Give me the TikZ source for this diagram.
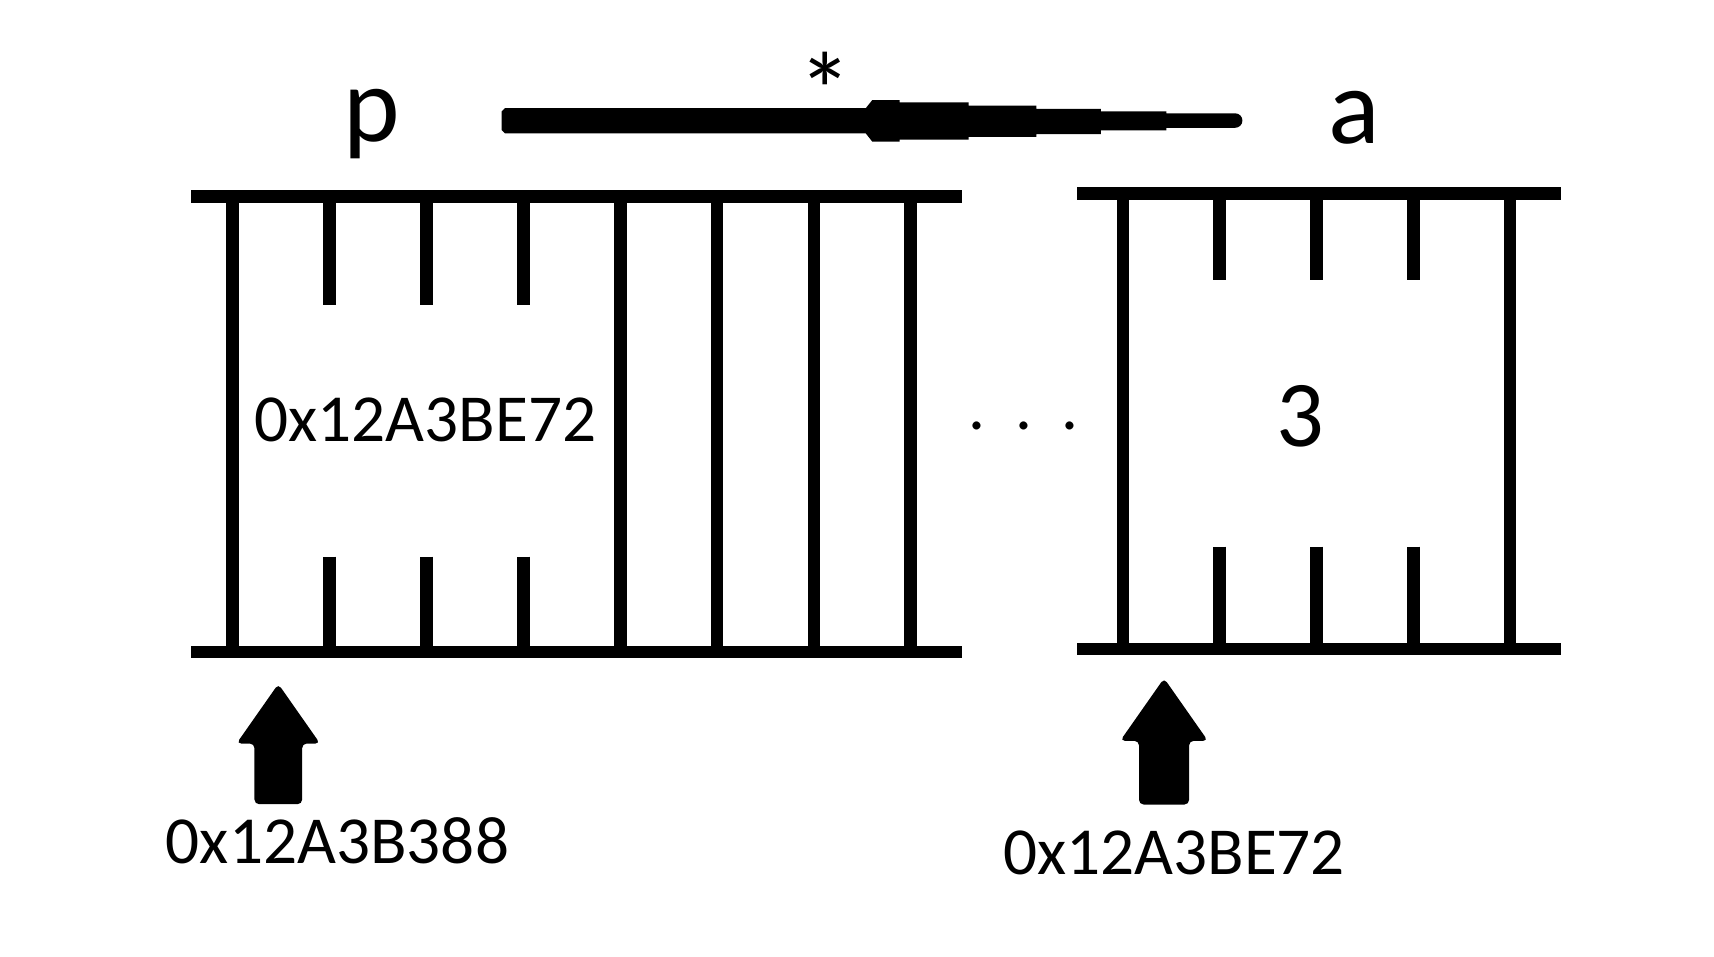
\documentclass[tikz,border=0pt]{standalone}
\usepackage{fontspec}
\setmainfont{Carlito}
\usetikzlibrary{positioning, calc}
\tikzset{
	rail/.style    ={line width=1.16mm},
	celltxt/.style ={font=\fontsize{17.5}{20}\selectfont, inner sep=0pt},
	varname/.style ={font=\fontsize{28}{32}\selectfont, inner sep=0pt, anchor=base},
	% block arrow pointing up, placed at its tip
	uparrow/.pic   ={\fill[rounded corners=1.2pt] (-21.8,110) -- (-21.8,54.5) -- (-38.2,54.5) -- (0,0)
	                  -- (38.2,54.5) -- (21.8,54.5) -- (21.8,110) -- cycle;},
}
\begin{document}
\begin{tikzpicture}[x=0.1mm, y=-0.1mm]
	\useasboundingbox (0,0) rectangle (1568,875);
	% variable names and the dereference star
	\node[varname] (p) at (340,129.6) {p};
	\node[varname] (a) at (1239,131) {a};
	\node[varname] (star) at (754.6,118) {*};
	% pointer p -> a
	\coordinate (ptrtail) at (459,110.5);
	\coordinate (ptrhead) at (1136,110.5);
	\fill ($(ptrtail)+(3,-11.5)$) -- (792,99) -- (798,91.5) -- (823,91.5) -- (823,93.6)
		-- (886,93.6) -- (886,96.7) -- (948,96.7) -- (948,99.7) -- (1007,99.7) -- (1007,102)
		-- (1067,102) -- (1067,103.7) -- (1130,103.7)
		arc[start angle=-90, end angle=90, radius=6.6]
		-- (1067,117) -- (1067,119.3) -- (1007,119.3) -- (1007,122.8) -- (948,122.8) -- (948,125.3)
		-- (886,125.3) -- (886,127.8) -- (823,127.8) -- (823,129.6) -- (798,129.6) -- (792,122)
		-- ($(ptrtail)+(3,11.5)$) -- ($(ptrtail)+(0,8.5)$) -- ($(ptrtail)+(0,-8.5)$) -- cycle;
	% memory holding p
	\draw[rail] (175,179.6) -- (880,179.6);
	\draw[rail] (175,596.5) -- (880,596.5);
	\foreach \k in {0,4,5,6,7}
		\draw[rail] (213+88.6*\k,179.6) -- (213+88.6*\k,596.5);
	\foreach \k in {1,2,3} {
		\draw[rail] (213+88.6*\k,179.6) -- (213+88.6*\k,279);
		\draw[rail] (213+88.6*\k,509.3) -- (213+88.6*\k,596.5);
	}
	\node[celltxt] (pval) at (389,384) {0x12A3BE72};
	% gap in memory
	\node[celltxt] (gap) at (936.5,390) {.\hspace{7.7pt}.\hspace{7.7pt}.};
	% memory holding a
	\draw[rail] (985.5,176.8) -- (1428,176.8);
	\draw[rail] (985.5,593.6) -- (1428,593.6);
	\foreach \k in {0,4}
		\draw[rail] (1027.4+88.5*\k,176.8) -- (1027.4+88.5*\k,593.6);
	\foreach \k in {1,2,3} {
		\draw[rail] (1027.4+88.5*\k,176.8) -- (1027.4+88.5*\k,256);
		\draw[rail] (1027.4+88.5*\k,500) -- (1027.4+88.5*\k,593.6);
	}
	\node[celltxt, font=\fontsize{24.5}{28}\selectfont] (aval) at (1190,381) {3};
	% addresses
	\node[celltxt] (paddr) at (308.7,769) {0x12A3B388};
	\node[celltxt] (aaddr) at (1074,780) {0x12A3BE72};
	\coordinate (ptip) at (254.6,625.7);
	\coordinate (atip) at (1064.9,620.5);
	\pic at (ptip) {uparrow};
	\pic[scale=1.05] at (atip) {uparrow};
\end{tikzpicture}
\end{document}
